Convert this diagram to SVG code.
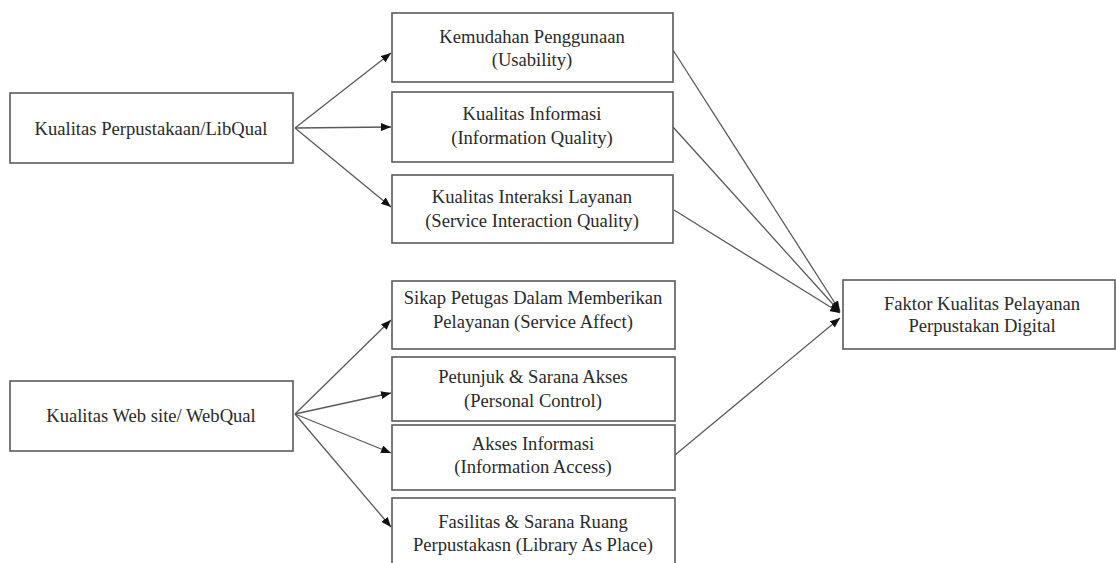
<svg xmlns="http://www.w3.org/2000/svg" width="1116" height="563" viewBox="0 0 1116 563">
<style>
.box{fill:#fff;stroke:#5a5a5a;stroke-width:1.6}
.t{font-family:"Liberation Serif","Times New Roman",serif;font-size:18.6px;fill:#2a2a2a;text-anchor:middle}
.c{stroke:#5a5a5a;stroke-width:1.3;fill:none;marker-end:url(#arr)}
</style>
<defs>
<marker id="arr" markerUnits="userSpaceOnUse" markerWidth="10" markerHeight="8" refX="10" refY="4" orient="auto">
<path d="M0,0 L10,4 L0,8 z" fill="#111"/>
</marker>
</defs>
<rect width="1116" height="563" fill="#fff"/>
<g id="connectors">
<line class="c" x1="295" y1="128" x2="391" y2="53"/>
<line class="c" x1="295" y1="128" x2="391" y2="127"/>
<line class="c" x1="295" y1="128" x2="391" y2="207"/>
<line class="c" x1="295" y1="414" x2="391" y2="320"/>
<line class="c" x1="295" y1="414" x2="391" y2="393"/>
<line class="c" x1="295" y1="414" x2="391" y2="453"/>
<line class="c" x1="295" y1="414" x2="391" y2="527"/>
<line class="c" x1="673" y1="50" x2="840" y2="311"/>
<line class="c" x1="673" y1="127" x2="840" y2="312"/>
<line class="c" x1="674" y1="210" x2="840" y2="313"/>
<line class="c" x1="675" y1="455" x2="840" y2="318"/>
</g>
<g id="libqual">
<rect class="box" x="10" y="93" width="283" height="70"/>
<text class="t" x="151" y="135">Kualitas Perpustakaan/LibQual</text>
</g>
<g id="webqual">
<rect class="box" x="10" y="381" width="283" height="70"/>
<text class="t" x="151" y="422">Kualitas Web site/ WebQual</text>
</g>
<g id="usability">
<rect class="box" x="392" y="13" width="281" height="69"/>
<text class="t" x="532" y="43">Kemudahan Penggunaan</text>
<text class="t" x="532" y="66">(Usability)</text>
</g>
<g id="infoquality">
<rect class="box" x="392" y="92" width="281" height="70"/>
<text class="t" x="532" y="120">Kualitas Informasi</text>
<text class="t" x="532" y="144">(Information Quality)</text>
</g>
<g id="interaction">
<rect class="box" x="392" y="175" width="281" height="68"/>
<text class="t" x="532" y="203">Kualitas Interaksi Layanan</text>
<text class="t" x="532" y="227">(Service Interaction Quality)</text>
</g>
<g id="affect">
<rect class="box" x="392" y="281" width="283" height="68"/>
<text class="t" x="533" y="304">Sikap Petugas Dalam Memberikan</text>
<text class="t" x="533" y="328">Pelayanan (Service Affect)</text>
</g>
<g id="control">
<rect class="box" x="392" y="357" width="283" height="64"/>
<text class="t" x="533" y="383">Petunjuk &amp; Sarana Akses</text>
<text class="t" x="533" y="407">(Personal Control)</text>
</g>
<g id="access">
<rect class="box" x="392" y="425" width="283" height="65"/>
<text class="t" x="533" y="450">Akses Informasi</text>
<text class="t" x="533" y="473">(Information Access)</text>
</g>
<g id="place">
<rect class="box" x="392" y="498" width="283" height="75"/>
<text class="t" x="533" y="528">Fasilitas &amp; Sarana Ruang</text>
<text class="t" x="533" y="551">Perpustakasn (Library As Place)</text>
</g>
<g id="faktor">
<rect class="box" x="843" y="280" width="272" height="69"/>
<text class="t" x="982" y="310">Faktor Kualitas Pelayanan</text>
<text class="t" x="982" y="332">Perpustakan Digital</text>
</g>
</svg>
